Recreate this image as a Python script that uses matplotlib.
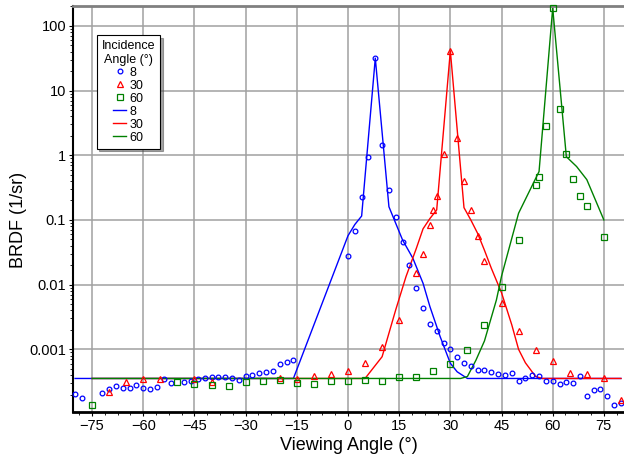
import matplotlib
matplotlib.use("Agg")
import matplotlib.pyplot as plt
from matplotlib.ticker import FixedLocator, MultipleLocator, NullFormatter

plt.rcParams['font.family'] = ['Liberation Sans', 'DejaVu Sans']

# measured points
b8_x = [-80, -78, -72, -70, -68, -66, -64, -62, -60, -58, -56, -54, -52, -48, -46, -44, -42, -40,
        -38, -36, -34, -32, -30, -28, -26, -24, -22, -20, -18, -16, 0, 2, 4, 6, 8, 10, 12, 14, 16,
        18, 20, 22, 24, 26, 28, 30, 32, 34, 36, 38, 40, 42, 44, 46, 48, 50, 52, 54, 56, 58, 60, 62,
        64, 66, 68, 70, 72, 74, 76, 78, 80]
b8_y = [2.07e-4, 1.76e-4, 2.13e-4, 2.48e-4, 2.76e-4, 2.57e-4, 2.57e-4, 2.86e-4, 2.57e-4, 2.48e-4,
        2.63e-4, 3.46e-4, 3.0e-4, 3.18e-4, 3.23e-4, 3.54e-4, 3.67e-4, 3.71e-4, 3.8e-4, 3.8e-4,
        3.67e-4, 3.38e-4, 3.86e-4, 3.99e-4, 4.33e-4, 4.44e-4, 4.7e-4, 5.97e-4, 6.34e-4, 6.95e-4,
        0.0282, 0.0679, 0.227, 0.955, 31.7, 1.46, 0.292, 0.112, 0.0454, 0.0202, 0.00883, 0.00438,
        0.00251, 0.00193, 1.27e-3, 1.02e-3, 7.66e-4, 6.12e-4, 5.62e-4, 4.88e-4, 4.88e-4, 4.49e-4,
        4.23e-4, 4.03e-4, 4.29e-4, 3.30e-4, 3.67e-4, 4.08e-4, 3.86e-4, 3.23e-4, 3.30e-4, 2.96e-4,
        3.18e-4, 3.0e-4, 3.89e-4, 1.89e-4, 2.39e-4, 2.48e-4, 1.89e-4, 1.37e-4, 1.47e-4]

r30_x = [-70, -65, -60, -55, -45, -40, -20, -15, -10, -5, 0, 5, 10, 15, 20, 22, 24, 25, 26, 28,
         30, 32, 34, 36, 38, 40, 45, 50, 55, 60, 65, 70, 75, 80]
r30_y = [2.23e-4, 3.11e-4, 3.46e-4, 3.54e-4, 3.54e-4, 3.18e-4, 3.59e-4, 3.54e-4, 3.89e-4, 4.14e-4,
         4.6e-4, 6.2e-4, 1.07e-3, 2.86e-3, 0.0149, 0.0296, 0.084, 0.141, 0.236, 1.04, 41.1, 1.84,
         0.398, 0.142, 0.0564, 0.0229, 5.18e-3, 1.95e-3, 9.8e-4, 6.58e-4, 4.29e-4, 4.18e-4,
         3.62e-4, 1.66e-4]

g60_x = [-75, -50, -45, -40, -35, -30, -25, -20, -15, -10, -5, 0, 5, 10, 15, 20, 25, 30, 35, 40,
         45, 50, 55, 56, 58, 60, 62, 64, 66, 68, 70, 75]
g60_y = [1.39e-4, 3.15e-4, 2.90e-4, 2.80e-4, 2.70e-4, 3.11e-4, 3.23e-4, 3.41e-4, 3.0e-4, 2.93e-4,
         3.26e-4, 3.26e-4, 3.34e-4, 3.3e-4, 3.76e-4, 3.76e-4, 4.7e-4, 6.04e-4, 9.8e-4, 2.37e-3,
         9.35e-3, 0.0498, 0.349, 0.469, 2.88, 188, 5.27, 1.06, 0.427, 0.236, 0.165, 0.0553]

# model curves
m8_x = [-80, -16, 0, 2, 4, 8, 12, 16, 19, 22, 24, 27, 30, 32, 35, 80]
m8_y = [3.55e-4, 3.55e-4, 0.057, 0.085, 0.115, 31.7, 0.16, 0.049, 0.0257, 0.0105, 0.0046,
        0.00158, 6.1e-4, 4.5e-4, 3.55e-4, 3.55e-4]

m30_x = [-75, 5, 10, 14, 17, 20, 22, 24, 26, 30, 34, 36, 38, 40, 42, 45, 48, 50, 52, 55, 57, 80]
m30_y = [3.55e-4, 3.55e-4, 7.7e-4, 4.1e-3, 0.0133, 0.036, 0.073, 0.105, 0.143, 41.1, 0.155, 0.10,
         0.062, 0.034, 0.018, 0.0075, 2.4e-3, 1.0e-3, 6.2e-4, 3.8e-4, 3.55e-4, 3.55e-4]

m60_x = [-75, 33, 35, 37.5, 40, 43.5, 45, 50, 56, 60, 64, 67, 70, 75]
m60_y = [3.55e-4, 3.55e-4, 3.8e-4, 6.8e-4, 1.35e-3, 5.8e-3, 0.0135, 0.127, 0.56, 188, 0.95, 0.67,
         0.42, 0.10]

x_ticks = [-75, -60, -45, -30, -15, 0, 15, 30, 45, 60, 75]
y_ticks = [0.001, 0.01, 0.1, 1, 10, 100]
y_labels = ['0.001', '0.01', '0.1', '1', '10', '100']

blue, red, green = '#0000ff', '#ff0000', '#008000'

fig = plt.figure(figsize=(6.24, 4.62), dpi=100)
ax = fig.add_axes([0.117, 0.109, 0.883, 0.879])

mk = dict(linestyle='none', markerfacecolor='none', markeredgewidth=0.9, clip_on=False, zorder=3)
ax.plot(b8_x, b8_y, marker='o', markersize=3.4, color=blue, label='8', **mk)
ax.plot(r30_x, r30_y, marker='^', markersize=3.8, color=red, label='30', **mk)
ax.plot(g60_x, g60_y, marker='s', markersize=3.8, color=green, label='60', **mk)

ax.plot(m8_x, m8_y, color=blue, lw=1.0, label='8', zorder=2)
ax.plot(m30_x, m30_y, color=red, lw=1.0, label='30', zorder=2)
ax.plot(m60_x, m60_y, color=green, lw=1.0, label='60', zorder=2)

ax.set_yscale('log')
ax.set_xlim(-80.6, 80.9)
ax.set_ylim(1.09e-4, 206)

ax.xaxis.set_major_locator(FixedLocator(x_ticks))
ax.xaxis.set_minor_locator(MultipleLocator(3.75))
ax.yaxis.set_major_locator(FixedLocator(y_ticks))
ax.set_yticklabels(y_labels)
ax.yaxis.set_minor_formatter(NullFormatter())
ax.tick_params(axis='both', which='major', labelsize=10.5, length=3, width=0.8, direction='out', pad=2)
ax.tick_params(axis='both', which='minor', length=2, width=0.6, direction='out')

ax.grid(True, which='major', color='#a0a0a0', lw=1.1)
ax.set_axisbelow(True)

ax.spines['left'].set_linewidth(1.5)
ax.spines['bottom'].set_linewidth(2)
ax.spines['top'].set_color('#808080')
ax.spines['top'].set_linewidth(2)
ax.spines['right'].set_visible(False)

ax.set_xlabel('Viewing Angle (°)', fontsize=13)
ax.set_ylabel('BRDF (1/sr)', fontsize=13)
ax.xaxis.set_label_coords(0.5, -0.062)
ax.yaxis.set_label_coords(-0.084, 0.472)

leg = ax.legend(title='Incidence\nAngle (°)', loc='upper left', bbox_to_anchor=(0.043, 0.928),
                borderaxespad=0, fontsize=9, title_fontsize=9, handlelength=1.0,
                handletextpad=0.3, labelspacing=0.08, borderpad=0.4, fancybox=False,
                shadow=True, edgecolor='black', framealpha=1)
leg.get_frame().set_linewidth(0.8)
leg.get_title().set_multialignment('center')

fig.savefig('out.png', dpi=100)
